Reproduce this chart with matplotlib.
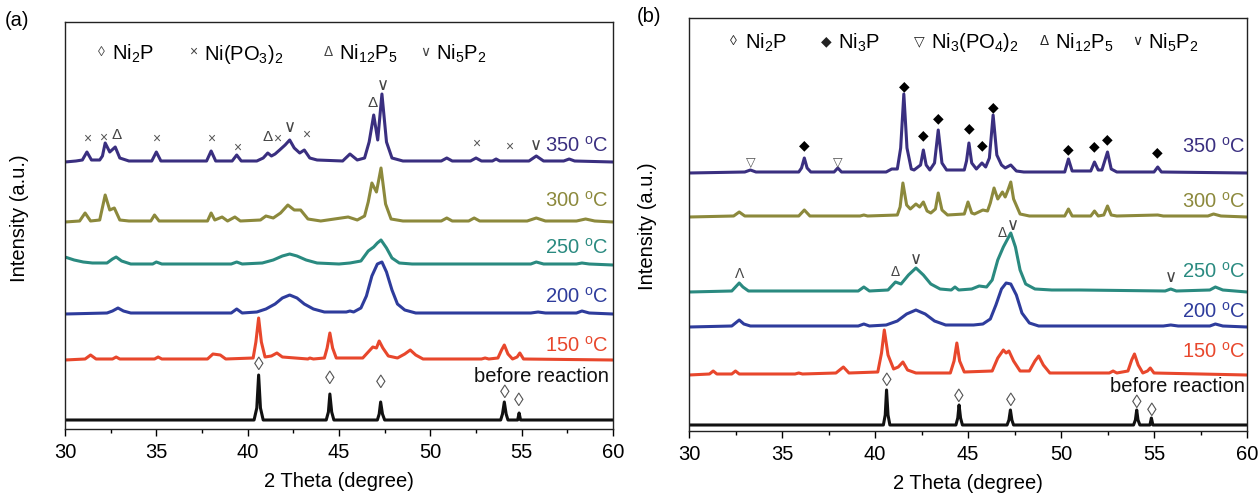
import numpy as np
import matplotlib
matplotlib.use('Agg')
import matplotlib.pyplot as plt
from matplotlib.ticker import MultipleLocator

plt.rcParams['font.family'] = ['Liberation Sans', 'DejaVu Sans']
plt.rcParams['mathtext.fontset'] = 'custom'
plt.rcParams['mathtext.rm'] = 'Liberation Sans'
plt.rcParams['mathtext.it'] = 'Liberation Sans:italic'
plt.rcParams['mathtext.bf'] = 'Liberation Sans:bold'

# ---------------- data: (2theta, intensity above own baseline) ----------------
# panel (a)
a350 = [(30.0,0),(30.6,1),(30.95,2),(31.2,10),(31.45,2),(31.9,2),(32.05,6),(32.2,19),(32.45,10),(32.75,15),
        (33.0,4),(33.5,1),(34.75,1),(35.0,10),(35.25,1),(36.5,1),(37.75,1),(38.0,11),(38.25,1),(39.15,1),
        (39.4,7),(39.65,1),(40.5,1),(40.85,4),(41.1,9),(41.3,6),(41.5,8),(41.75,12),(42.05,17),(42.3,22),
        (42.55,14),(42.85,9),(43.1,12),(43.4,4),(43.8,2),(45.2,1),(45.6,8),(46.0,2),(46.4,4),(46.65,20),
        (46.9,47),(47.12,22),(47.35,68),(47.6,20),(47.9,4),(48.5,1),(50.6,1),(50.9,4),(51.2,1),(52.2,1),
        (52.5,4),(52.8,1),(53.4,1),(53.6,3),(53.8,1),(55.4,1),(55.8,6),(56.2,1),(57.3,1),(57.6,3),(57.9,1),(60.0,0)]
a300 = [(30.0,0),(30.8,1),(31.1,9),(31.4,1),(31.9,2),(32.2,27),(32.45,12),(32.7,14),(33.0,2),(33.5,1),
        (34.7,1),(34.9,7),(35.15,1),(36.3,1),(37.8,1),(38.0,9),(38.2,2),(38.6,5),(38.9,1),(39.3,5),(39.6,1),
        (40.7,2),(41.0,6),(41.4,4),(41.8,9),(42.2,17),(42.55,12),(42.9,12),(43.3,3),(44.0,1),(45.5,5),(46.0,2),
        (46.4,6),(46.6,20),(46.8,39),(47.05,30),(47.3,54),(47.55,18),(47.85,3),(48.5,1),(50.6,1),(50.9,4),
        (51.2,1),(52.1,1),(52.4,4),(52.7,1),(55.3,1),(55.8,4),(56.3,1),(58.0,1),(58.5,3),(59.0,1),(60.0,0)]
a250 = [(30.0,8),(30.5,5),(31.0,3),(31.5,2),(32.3,2),(32.6,6),(32.8,8),(33.1,4),(33.6,1),(34.8,1),(35.0,3),
        (35.3,1),(37.0,1),(39.1,1),(39.4,3),(39.7,1),(40.8,2),(41.4,5),(41.9,9),(42.3,11),(42.7,9),(43.2,5),
        (43.8,2),(45.0,1),(45.6,2),(46.2,4),(46.6,14),(46.9,18),(47.1,22),(47.3,25),(47.6,17),(47.9,7),
        (48.3,2),(49.0,1),(55.5,1),(55.8,3),(56.2,1),(58.0,1),(58.3,2),(58.7,1),(60.0,0)]
a200 = [(30.0,0),(32.3,1),(32.6,3),(32.9,6),(33.2,3),(33.6,1),(39.1,1),(39.4,5),(39.7,1),(40.5,2),(41.0,5),
        (41.5,10),(41.9,16),(42.3,19),(42.7,16),(43.1,10),(43.6,5),(44.2,2),(45.4,2),(45.6,3),(45.8,2),
        (46.2,6),(46.5,18),(46.8,38),(47.1,50),(47.35,52),(47.6,42),(47.9,24),(48.2,10),(48.6,4),(49.2,1),
        (55.5,1),(55.9,2),(56.3,1),(58.0,1),(58.3,3),(58.7,1),(60.0,0)]
a150 = [(30.0,0),(31.1,1),(31.4,5),(31.7,1),(32.6,1),(32.8,3),(33.0,1),(34.9,1),(35.1,3),(35.3,1),(37.8,1),
        (38.1,6),(38.5,5),(38.8,1),(40.3,2),(40.45,18),(40.6,42),(40.75,18),(40.95,3),(41.3,4),(41.6,7),
        (41.9,3),(43.3,1),(43.4,2),(43.6,1),(44.2,2),(44.35,12),(44.5,27),(44.65,12),(44.85,2),(46.3,2),
        (46.6,8),(46.85,13),(47.05,12),(47.2,19),(47.4,12),(47.7,4),(48.2,2),(48.6,6),(48.9,10),(49.2,5),
        (49.6,1),(52.8,1),(53.0,2),(53.2,1),(53.7,2),(53.9,10),(54.05,15),(54.25,6),(54.5,1),(54.75,3),
        (54.9,7),(55.1,1),(60.0,0)]
a_before = [(30.0,0),(40.35,0),(40.5,12),(40.6,45),(40.7,12),(40.85,0),(44.3,0),(44.42,8),(44.5,26),(44.6,8),
            (44.72,0),(47.1,0),(47.2,6),(47.28,18),(47.38,6),(47.5,0),(53.85,0),(53.95,6),(54.05,18),(54.15,6),
            (54.25,0),(54.78,0),(54.86,7),(54.94,0),(60.0,0)]

# panel (b)
b350 = [(30.0,0),(33.0,1),(33.3,3),(33.6,1),(35.9,1),(36.05,5),(36.2,15),(36.35,5),(36.55,1),(37.8,1),(38.0,5),
        (38.2,1),(40.6,1),(40.9,4),(41.2,4),(41.38,25),(41.55,79),(41.72,25),(41.95,4),(42.1,3),(42.45,8),
        (42.6,23),(42.75,8),(42.95,3),(43.2,10),(43.4,43),(43.6,10),(43.85,3),(44.8,3),(44.92,12),(45.05,30),
        (45.2,10),(45.45,4),(45.75,10),(45.95,6),(46.15,15),(46.35,58),(46.55,18),(46.8,8),(47.0,5),(47.3,8),
        (47.6,2),(48.0,1),(50.2,1),(50.4,14),(50.6,2),(51.6,2),(51.8,11),(52.0,3),(52.2,3),(52.5,21),(52.7,4),
        (53.0,1),(55.0,1),(55.2,6),(55.4,1),(60.0,0)]
b300 = [(30.0,0),(32.4,1),(32.7,5),(33.0,1),(35.9,1),(36.2,7),(36.5,1),(39.2,1),(39.4,2),(39.6,1),(41.2,2),
        (41.35,10),(41.5,34),(41.7,12),(41.9,8),(42.2,13),(42.4,10),(42.6,15),(42.8,6),(43.0,4),(43.25,8),
        (43.4,24),(43.6,7),(43.9,2),(44.8,3),(45.0,15),(45.2,4),(45.35,3),(45.8,7),(46.05,6),(46.2,14),
        (46.4,29),(46.6,18),(46.85,25),(47.0,20),(47.15,27),(47.3,35),(47.45,18),(47.8,3),(48.3,1),(50.2,1),
        (50.4,8),(50.6,1),(51.6,1),(51.8,6),(52.0,1),(52.3,2),(52.5,11),(52.7,2),(53.0,1),(55.2,2),(55.5,1),
        (57.9,1),(58.2,3),(58.6,1),(60.0,0)]
b250 = [(30.0,0),(32.3,1),(32.5,5),(32.7,9),(32.9,5),(33.2,1),(39.1,1),(39.4,5),(39.7,1),(40.7,2),(41.1,10),
        (41.4,8),(41.8,17),(42.2,24),(42.6,17),(43.0,8),(43.5,3),(44.1,2),(44.3,5),(44.5,2),(45.2,3),(45.6,6),
        (46.0,5),(46.3,12),(46.6,32),(46.9,45),(47.1,52),(47.3,59),(47.55,45),(47.8,22),(48.1,8),(48.6,3),
        (49.5,2),(51.0,2),(55.6,1),(55.9,3),(56.2,1),(58.0,2),(58.3,5),(58.7,2),(60.0,0)]
b200 = [(30.0,0),(32.3,1),(32.5,4),(32.7,7),(32.95,3),(33.3,1),(39.1,1),(39.4,3),(39.7,1),(40.6,2),(41.2,6),
        (41.7,13),(42.2,17),(42.7,13),(43.2,6),(43.8,2),(45.3,2),(45.8,3),(46.2,8),(46.5,22),(46.8,38),
        (47.05,44),(47.3,43),(47.6,32),(47.9,14),(48.3,4),(48.8,1),(55.5,1),(55.9,2),(56.3,1),(58.0,1),
        (58.3,3),(58.7,1),(60.0,0)]
b150 = [(30.0,0),(31.1,1),(31.3,4),(31.5,1),(32.3,1),(32.5,4),(32.7,1),(35.7,1),(35.9,2),(36.1,1),(37.9,2),
        (38.3,8),(38.6,2),(40.15,3),(40.35,22),(40.5,45),(40.7,20),(41.0,6),(41.25,8),(41.5,13),(41.75,5),
        (42.2,2),(44.05,2),(44.25,14),(44.4,32),(44.55,14),(44.8,3),(46.3,4),(46.6,17),(46.9,25),(47.05,22),
        (47.2,24),(47.45,14),(47.8,4),(48.3,4),(48.6,14),(48.8,19),(49.05,10),(49.4,2),(52.6,2),(52.8,4),
        (53.0,2),(53.6,4),(53.8,15),(53.95,21),(54.15,10),(54.4,2),(54.65,4),(54.8,7),(55.0,2),(60.0,0)]
b_before = [(30.0,0),(40.45,0),(40.55,10),(40.62,35),(40.7,10),(40.8,0),(44.35,0),(44.45,7),(44.52,20),(44.6,7),
            (44.7,0),(47.1,0),(47.2,5),(47.28,15),(47.36,5),(47.45,0),(53.9,0),(54.0,5),(54.07,15),(54.14,5),
            (54.24,0),(54.78,0),(54.86,7),(54.94,0),(60.0,0)]

temps = ['350', '300', '250', '200', '150', 'before reaction']
colors = ['#3a2f80', '#8c893c', '#2a8a80', '#2e3c9c', '#e8472c', '#111111']
offsets_a = [267, 207, 164, 115, 69, 9]
offsets_b = [258, 214, 139, 104, 56, 6]
label_y_a = [283, 228, 181, 132, 83, 52]
label_y_b = [284, 229, 159, 119, 79, 45]

# phase markers (2theta, height on the axis)
a_cross = [(31.2,290),(32.1,291),(35.0,290),(38.0,290),(39.4,281),(41.6,290),(43.2,294),(52.5,285),(54.3,282)]
a_delta = [(32.8,294),(41.1,292),(46.85,326)]
a_vee = [(42.3,302),(47.4,343),(55.8,283)]
a_diam = [(40.6,63),(44.5,49),(47.28,45),(54.05,35),(54.86,28)]

b_tri = [(33.3,268),(38.0,268)]
b_fdiam = [(36.2,286),(41.55,345),(42.6,296),(43.4,313),(45.05,303),(45.75,286),(46.35,324),
           (50.4,282),(51.8,285),(52.5,292),(55.2,279)]
b_lam = [(32.7,157)]
b_delta = [(41.1,159),(46.85,198)]
b_vee = [(42.2,171),(47.4,205),(55.9,153)]
b_diam = [(40.62,50),(44.52,34),(47.28,30),(54.07,27),(54.86,20)]

W, H = 1259, 497
fig = plt.figure(figsize=(W/100, H/100), dpi=100)
axa = fig.add_axes([65/W, 1-429/H, 548/W, 407/H])
axb = fig.add_axes([689/W, 1-431/H, 558/W, 413/H])


def setup(ax, top):
    ax.set_xlim(30, 60)
    ax.set_ylim(0, top)
    ax.set_yticks([])
    ax.xaxis.set_major_locator(MultipleLocator(5))
    ax.xaxis.set_minor_locator(MultipleLocator(2.5))
    ax.tick_params(axis='x', which='major', direction='out', length=5, width=1, labelsize=14.5, pad=5)
    ax.tick_params(axis='x', which='minor', direction='out', length=3, width=1)
    for s in ax.spines.values():
        s.set_linewidth(1.0)
        s.set_color('#222222')
    ax.set_xlabel('2 Theta (degree)', fontsize=14.5, labelpad=7)


def trace(ax, pts, off, color):
    x = np.array([p[0] for p in pts])
    y = np.array([p[1] for p in pts]) + off
    ax.plot(x, y, color=color, lw=2.2, solid_joinstyle='round')


def marks(ax, pts, sym, color, size):
    for x, y in pts:
        ax.text(x, y, sym, ha='center', va='center', color=color, fontsize=size)


setup(axa, 407)
setup(axb, 413)

traces_a = [a350, a300, a250, a200, a150, a_before]
traces_b = [b350, b300, b250, b200, b150, b_before]
for i in range(6):
    trace(axa, traces_a[i], offsets_a[i], colors[i])
    trace(axb, traces_b[i], offsets_b[i], colors[i])
    if temps[i].isdigit():
        lab = temps[i] + r' $^{\mathrm{o}}$C'
    else:
        lab = temps[i]
    axa.text(59.75, label_y_a[i], lab, ha='right', va='center', color=colors[i], fontsize=14.5)
    axb.text(59.9, label_y_b[i], lab, ha='right', va='center', color=colors[i], fontsize=14.5)

gray = '#555555'
marks(axa, a_cross, '×', gray, 10)
marks(axa, a_delta, 'Δ', '#444444', 11)
marks(axa, a_vee, '∨', '#444444', 12)
marks(axa, a_diam, '◊', gray, 14)

marks(axb, b_tri, '▽', gray, 9)
marks(axb, b_fdiam, '◆', 'black', 10)
marks(axb, b_lam, 'Λ', '#444444', 10)
marks(axb, b_delta, 'Δ', '#444444', 10)
marks(axb, b_vee, '∨', '#444444', 12)
marks(axb, b_diam, '◊', gray, 14)

# legends written at the top of each panel
leg_a = [(32.0, '◊', 'Ni$_2$P'), (37.0, '×', 'Ni(PO$_3$)$_2$'), (44.4, 'Δ', 'Ni$_{12}$P$_5$'), (49.7, '∨', 'Ni$_5$P$_2$')]
leg_b = [(32.4, '◊', 'Ni$_2$P'), (37.4, '◆', 'Ni$_3$P'), (42.4, '▽', 'Ni$_3$(PO$_4$)$_2$'),
         (49.1, 'Δ', 'Ni$_{12}$P$_5$'), (54.1, '∨', 'Ni$_5$P$_2$')]
for x, s, t in leg_a:
    axa.text(x, 377, s, ha='center', va='center', fontsize=10, color='#444444')
    axa.text(x + 0.6, 375, t, ha='left', va='center', fontsize=14.5)
for x, s, t in leg_b:
    axb.text(x, 390, s, ha='center', va='center', fontsize=10, color='#222222')
    axb.text(x + 0.6, 388, t, ha='left', va='center', fontsize=14.5)

fig.text(20/W, 1-218/H, 'Intensity (a.u.)', rotation=90, ha='center', va='center', fontsize=14.5)
fig.text(647/W, 1-226/H, 'Intensity (a.u.)', rotation=90, ha='center', va='center', fontsize=14.5)
fig.text(5/W, 1-20/H, '(a)', ha='left', va='center', fontsize=14.5)
fig.text(637/W, 1-17/H, '(b)', ha='left', va='center', fontsize=14.5)

fig.savefig('out.png', dpi=100)
